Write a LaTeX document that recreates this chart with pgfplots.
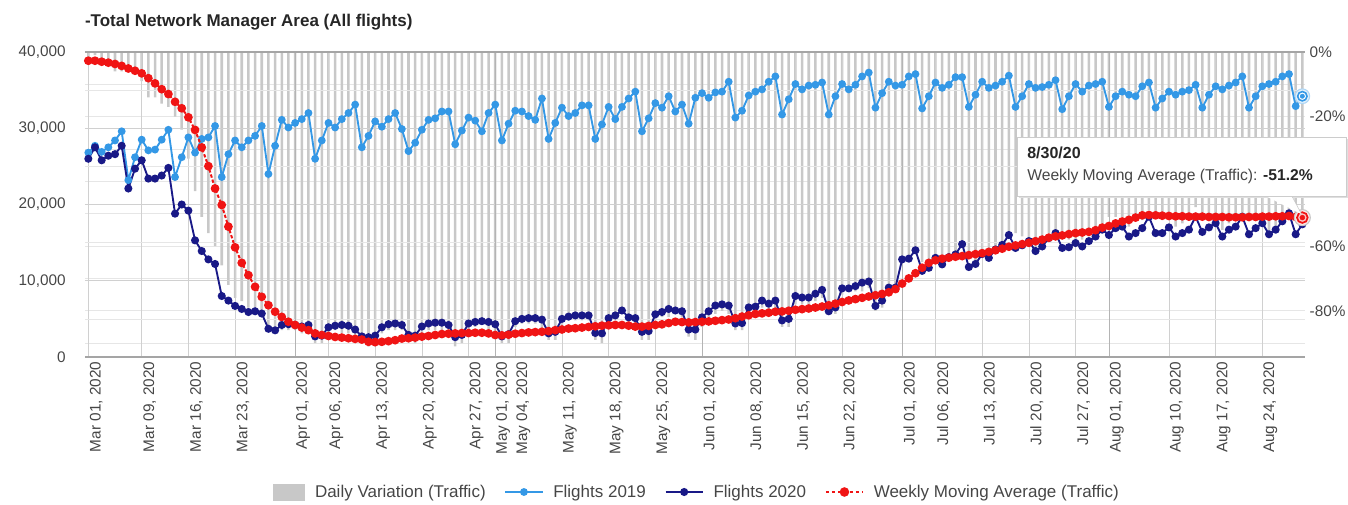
\documentclass[border=0pt]{standalone}
\usepackage{pgfplots}
\usepackage{pgfplotstable}
\pgfplotsset{compat=1.18}
\usepackage{fontspec}
\setmainfont{Liberation Sans}

\definecolor{c19}{RGB}{52,152,230}
\definecolor{c20}{RGB}{25,25,135}
\definecolor{cma}{RGB}{240,20,20}
\definecolor{cbar}{RGB}{200,200,200}
\definecolor{cgrid}{RGB}{208,208,208}
\definecolor{cgridl}{RGB}{230,230,230}
\definecolor{cmonth}{RGB}{180,180,180}
\definecolor{caxis}{RGB}{165,165,165}
\definecolor{ctext}{RGB}{70,70,70}

% d = days since 1 Mar 2020, f19/f20 = flights, ma = weekly moving average (%), dv = daily variation (%)
\pgfplotstableread{
d f19 f20 ma dv
0 26800 26000 -2.7 -3
1 27700 27500 -2.7 -1
2 26900 25800 -3.0 -4
3 27500 26400 -3.3 -4
4 28400 26600 -3.7 -6
5 29600 27700 -4.3 -6
6 23200 22100 -5.1 -5
7 26200 24700 -5.8 -6
8 28500 25800 -6.6 -9
9 27100 23400 -8.1 -14
10 27200 23400 -9.7 -14
11 28500 23800 -11.5 -16
12 29800 24800 -13.0 -17
13 23600 18800 -15.4 -20
14 26200 20000 -17.4 -24
15 28800 19200 -20.2 -33
16 26800 15300 -24.1 -43
17 28600 13900 -29.5 -51
18 28800 12800 -35.3 -56
19 30300 12200 -42.2 -60
20 23600 8000 -47.3 -66
21 26600 7400 -54.0 -72
22 28400 6700 -60.4 -76
23 27500 6300 -65.2 -77
24 28400 5900 -69.0 -79
25 29000 6000 -72.6 -79
26 30300 5700 -75.7 -81
27 24000 3700 -78.3 -85
28 27700 3500 -80.3 -87
29 31100 4200 -81.9 -86
30 30100 4300 -83.4 -86
31 30700 4200 -84.4 -86
32 31200 4000 -85.2 -87
33 32000 4200 -86.0 -87
34 26000 2700 -87.0 -90
35 28400 2800 -87.5 -90
36 30700 3900 -87.8 -87
37 30100 4100 -88.1 -86
38 31200 4200 -88.3 -87
39 32000 4100 -88.5 -87
40 33100 3600 -88.7 -89
41 27500 2700 -88.9 -90
42 29000 2600 -89.6 -91
43 30900 2800 -89.7 -91
44 30200 3900 -89.6 -87
45 31200 4300 -89.4 -86
46 32000 4400 -89.1 -86
47 29900 4200 -88.6 -86
48 27000 2900 -88.5 -89
49 28100 2800 -88.3 -90
50 29800 4000 -88.0 -87
51 31100 4400 -87.8 -86
52 31300 4500 -87.5 -86
53 32200 4500 -87.2 -86
54 32200 4200 -87.1 -87
55 27900 2600 -87.0 -91
56 29700 2900 -86.9 -90
57 31400 4400 -86.9 -86
58 31000 4600 -86.8 -85
59 29600 4700 -86.8 -84
60 32000 4600 -87.0 -86
61 33100 4300 -87.5 -87
62 28400 2700 -87.6 -90
63 30600 3000 -87.4 -90
64 32300 4700 -87.1 -85
65 32200 5000 -86.9 -84
66 31600 5100 -86.7 -84
67 31100 5100 -86.6 -84
68 33900 4900 -86.5 -86
69 28600 3100 -86.3 -89
70 30700 3300 -86.0 -89
71 32700 5000 -85.8 -85
72 31600 5300 -85.5 -83
73 32000 5450 -85.4 -83
74 33000 5450 -85.2 -83
75 33000 5450 -85.0 -83
76 28600 3150 -84.8 -89
77 30500 3100 -84.6 -90
78 32800 5100 -84.5 -84
79 31200 5450 -84.4 -83
80 32800 6100 -84.4 -81
81 33900 5200 -84.6 -85
82 34800 5100 -84.9 -85
83 29600 3300 -84.9 -89
84 31300 3400 -84.7 -89
85 33300 5600 -84.4 -83
86 32700 5900 -84.2 -82
87 34200 6300 -83.8 -82
88 32200 6100 -83.4 -81
89 33100 6000 -83.5 -82
90 30600 3600 -83.6 -88
91 34000 3600 -83.5 -89
92 34600 5200 -83.4 -85
93 34000 6000 -83.3 -82
94 34700 6750 -83.1 -81
95 34800 6900 -82.9 -80
96 36100 6750 -82.7 -81
97 31400 4400 -82.3 -86
98 32300 4450 -81.8 -86
99 34300 6500 -81.4 -81
100 34800 6600 -81.0 -81
101 35100 7400 -80.8 -79
102 36100 7000 -80.6 -81
103 36800 7400 -80.3 -80
104 31800 4800 -80.2 -85
105 33800 5000 -80.0 -85
106 35800 8000 -79.7 -78
107 35100 7800 -79.5 -78
108 35600 7800 -79.3 -78
109 35700 8300 -79.0 -77
110 36000 8800 -78.7 -76
111 31800 6000 -78.3 -81
112 34200 6500 -77.8 -81
113 35800 9000 -77.3 -75
114 35100 9000 -76.8 -74
115 35700 9300 -76.4 -74
116 36800 9750 -76.0 -74
117 37300 9900 -75.6 -73
118 32700 6700 -75.2 -80
119 34600 7400 -74.8 -79
120 36100 9100 -74.3 -75
121 35600 9100 -73.3 -74
122 35700 12800 -71.6 -64
123 36800 12900 -70.0 -65
124 37100 14000 -68.4 -62
125 32600 11300 -66.7 -65
126 34200 11700 -65.2 -66
127 36000 13000 -64.4 -64
128 35300 12150 -63.9 -66
129 35700 13100 -63.6 -63
130 36700 13450 -63.3 -63
131 36700 14800 -63.1 -60
132 32800 11800 -62.8 -64
133 34400 12200 -62.5 -65
134 36100 13500 -62.2 -63
135 35300 13000 -61.8 -63
136 35600 14100 -61.3 -60
137 36100 14700 -60.8 -59
138 36900 16000 -60.2 -57
139 32800 14300 -59.8 -56
140 34200 14650 -59.4 -57
141 35800 15200 -59.0 -58
142 35300 13900 -58.5 -61
143 35400 14500 -58.0 -59
144 35700 15600 -57.4 -56
145 36300 16250 -57.0 -55
146 32500 14300 -56.7 -56
147 34200 14400 -56.3 -58
148 35800 14950 -56.0 -58
149 34800 14500 -55.8 -58
150 35600 15200 -55.6 -57
151 35800 15800 -55.1 -56
152 36100 16700 -54.3 -54
153 32800 16000 -53.8 -51
154 34200 16900 -53.0 -51
155 34800 17100 -52.4 -51
156 34400 15800 -51.9 -54
157 34200 16250 -51.2 -52
158 35500 16900 -50.5 -52
159 36000 18400 -50.4 -49
160 32700 16250 -50.5 -50
161 33900 16250 -50.6 -52
162 34800 17000 -50.7 -51
163 34400 15800 -50.8 -54
164 34800 16250 -50.8 -53
165 35000 16700 -50.9 -52
166 35700 18400 -50.9 -48
167 32700 16400 -50.9 -50
168 34400 17000 -51.0 -51
169 35500 17550 -51.0 -51
170 35100 15800 -51.0 -55
171 35600 16700 -51.1 -53
172 36000 17100 -51.1 -52
173 36800 18400 -51.1 -50
174 32700 16100 -51.0 -51
175 34200 16900 -51.0 -51
176 35500 17550 -50.9 -51
177 35800 16100 -50.9 -55
178 36100 16700 -50.8 -54
179 36800 17800 -50.8 -52
180 37100 18850 -50.7 -49
181 32900 16100 -51.0 -51
182 34200 17400 -51.2 -49
}\traffic

\pgfplotsset{
  base/.style={
    at={(0,0)}, anchor=south west, scale only axis,
    width=915pt, height=228.75pt,
    xmin=-0.5, xmax=182.4,
    scaled y ticks=false, scaled x ticks=false,
    major tick length=0pt, minor tick length=0pt,
    axis line style={draw=none},
    tick label style={font=\fontsize{11.5}{13}\selectfont, text=ctext},
  },
  lineleg/.style={legend image code/.code={%
    \path[draw=none, fill=none] (0pt,0pt) -- (34pt,0pt);
    \draw[mark repeat=2,mark phase=2,##1] plot coordinates {(0pt,0pt) (14pt,0pt) (28pt,0pt)};}},
  barleg/.style={legend image code/.code={%
    \path[draw=none, fill=none] (0pt,0pt) -- (29pt,0pt);
    \fill[cbar] (0pt,-6pt) rectangle (23pt,6pt);}},
}

\begin{document}
\begin{tikzpicture}
\useasboundingbox (-63.75pt,-110.25pt) rectangle (947.25pt,267.75pt);

% daily variation bars on the right (percent) axis
\begin{axis}[base,
  ymin=-94.3, ymax=0,
  xtick=\empty,
  ytick={-80,-60,-40,-20,0},
  yticklabels={-80\%,-60\%,-40\%,-20\%,0\%},
  minor ytick={-90,-70,-50,-30,-10},
  ytick pos=right, yticklabel pos=right,
  ymajorgrids, yminorgrids,
  major grid style={draw=cgridl},
  minor grid style={draw=cgridl},
]
\addplot[ybar, bar width=0.38, bar shift=0pt, fill=cbar, draw=none] table[x=d, y=dv] {\traffic};
\end{axis}

% flights on the left axis
\begin{axis}[base, clip=false,
  ymin=0, ymax=40000,
  ytick={0,10000,20000,30000,40000},
  yticklabels={0,{10,000},{20,000},{30,000},{40,000}},
  minor ytick={5000,15000,25000,35000},
  yticklabel style={xshift=-11pt},
  ymajorgrids, yminorgrids, xmajorgrids,
  major grid style={draw=cgrid},
  minor grid style={draw=cgridl},
  xtick={0,8,15,22,31,36,43,50,57,61,64,71,78,85,92,99,106,113,122,127,134,141,148,153,162,169,176},
  xticklabels={{Mar 01, 2020},{Mar 09, 2020},{Mar 16, 2020},{Mar 23, 2020},{Apr 01, 2020},{Apr 06, 2020},{Apr 13, 2020},{Apr 20, 2020},{Apr 27, 2020},{May 01, 2020},{May 04, 2020},{May 11, 2020},{May 18, 2020},{May 25, 2020},{Jun 01, 2020},{Jun 08, 2020},{Jun 15, 2020},{Jun 22, 2020},{Jul 01, 2020},{Jul 06, 2020},{Jul 13, 2020},{Jul 20, 2020},{Jul 27, 2020},{Aug 01, 2020},{Aug 10, 2020},{Aug 17, 2020},{Aug 24, 2020}},
  xticklabel style={rotate=90, anchor=east, yshift=-6pt},
  extra x ticks={31,61,92,122,153},
  extra x tick labels={},
  extra x tick style={grid=major, major grid style={draw=cmonth}},
  extra y ticks={0,40000},
  extra y tick labels={},
  extra y tick style={grid=major, major grid style={draw=caxis, line width=1.4pt}},
]
\addplot[c19, line width=1.4pt, mark=*, mark size=2.2pt] table[x=d, y=f19] {\traffic};
\addplot[c20, line width=1.4pt, mark=*, mark size=2.3pt] table[x=d, y=f20] {\traffic};
\addplot[only marks, mark=*, mark size=5.5pt, mark options={fill=c19!15, draw=c19!40, line width=0.8pt}] coordinates {(182,34200)};
\addplot[only marks, mark=*, mark size=3.5pt, mark options={fill=white, draw=c19, line width=1.2pt}] coordinates {(182,34200)};
\addplot[only marks, mark=*, mark size=1.6pt, c19] coordinates {(182,34200)};
\end{axis}

% weekly moving average on the right axis, and the legend
\begin{axis}[base, hide axis, clip=false,
  ymin=-94.3, ymax=0,
  legend columns=4,
  legend style={draw=none, fill=none, at={(0.502,-0.4426)}, anchor=center,
    font=\fontsize{12.75}{15}\selectfont, text=ctext,
    /tikz/every even column/.append style={column sep=12pt}},
]
\addplot[forget plot, cma, line width=1.5pt, dash pattern=on 2.5pt off 1.5pt,
  mark=*, mark size=2.5pt, mark options={solid}] table[x=d, y=ma] {\traffic};
\addplot[forget plot, only marks, mark=*, mark size=6pt, mark options={fill=cma!10, draw=gray!45, line width=0.8pt}] coordinates {(182,-51.2)};
\addplot[forget plot, only marks, mark=*, mark size=4pt, mark options={fill=cma!25, draw=cma, line width=1.3pt}] coordinates {(182,-51.2)};
\addplot[forget plot, only marks, mark=*, mark size=1.8pt, cma] coordinates {(182,-51.2)};

\addlegendimage{barleg}
\addlegendentry{Daily Variation (Traffic)}
\addlegendimage{lineleg, c19, line width=1.4pt, mark=*, mark size=2.2pt}
\addlegendentry{Flights 2019}
\addlegendimage{lineleg, c20, line width=1.4pt, mark=*, mark size=2.3pt}
\addlegendentry{Flights 2020}
\addlegendimage{lineleg, cma, line width=1.5pt, dash pattern=on 2.5pt off 2pt, mark=*, mark size=2.8pt, mark options={solid}}
\addlegendentry{Weekly Moving Average (Traffic)}
\end{axis}

% title
\node[anchor=west, font=\bfseries\fontsize{12.75}{15}\selectfont, text=black!85] at (-3.5pt,251.25pt)
  {-Total Network Manager Area (All flights)};

% tooltip
\fill[gray!25] (700.5pt,119.25pt) rectangle (947pt,163.5pt);
\fill[white] (885pt,121pt) -- (905pt,121pt) -- (912.5pt,107pt) -- cycle;
\draw[gray!45] (905pt,121pt) -- (912.5pt,107pt);
\filldraw[fill=white, draw=gray!40] (699pt,120.75pt) rectangle (946pt,165pt);
\node[anchor=west, font=\bfseries\fontsize{12}{14}\selectfont, text=black!85, inner sep=0pt] at (706.5pt,153pt) {8/30/20};
\node[anchor=west, font=\fontsize{11.75}{14}\selectfont, text=ctext, inner sep=0pt] at (706.5pt,135.5pt)
  {Weekly Moving Average (Traffic): \textbf{\color{black!85}-51.2\%}};
\end{tikzpicture}
\end{document}
